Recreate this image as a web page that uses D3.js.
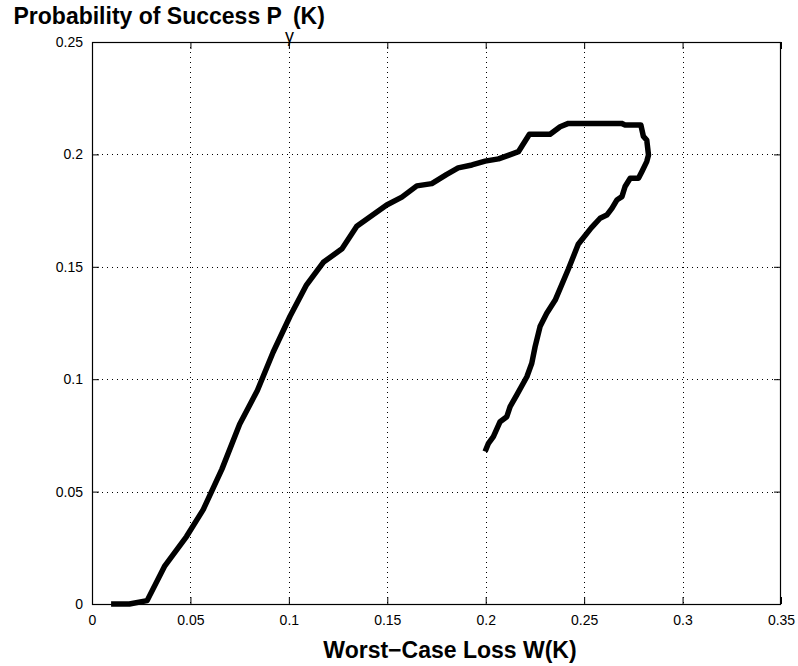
<!DOCTYPE html>
<html>
<head>
<meta charset="utf-8">
<script src="https://cdn.jsdelivr.net/npm/d3@7"></script>
<style>
  html, body { margin: 0; padding: 0; background: #fff; }
  svg { display: block; }
  text { font-family: "Liberation Sans", Arial, Helvetica, sans-serif; }
</style>
</head>
<body>
<svg id="chart" width="798" height="666"></svg>
<script>
// Worst-case loss W(K) against probability of success P_gamma(K)
const lossW = [
  0.0097, 0.019, 0.028, 0.037, 0.048, 0.0565, 0.066, 0.075, 0.084, 0.092,
  0.1006, 0.109, 0.1175, 0.127, 0.1345, 0.1497, 0.1574, 0.165, 0.1726, 0.180,
  0.186, 0.193, 0.1997, 0.2065, 0.2166, 0.2222, 0.2327, 0.2378, 0.242, 0.269,
  0.2708, 0.2788, 0.2801, 0.2818, 0.2827, 0.2818, 0.2793, 0.2776, 0.2734, 0.2708,
  0.2692, 0.2666, 0.2641, 0.2615, 0.2581, 0.2536, 0.247, 0.242, 0.2353, 0.231,
  0.2276, 0.2251, 0.2234, 0.2209, 0.2158, 0.2124, 0.2107, 0.2073, 0.2039, 0.2014,
  0.1997
];
const successP = [
  0.0, 0.0, 0.0015, 0.017, 0.030, 0.042, 0.060, 0.080, 0.095, 0.112,
  0.128, 0.142, 0.152, 0.158, 0.168, 0.1775, 0.181, 0.186, 0.187, 0.191,
  0.194, 0.1953, 0.197, 0.198, 0.2012, 0.209, 0.209, 0.2123, 0.2138, 0.2138,
  0.2131, 0.2131, 0.208, 0.2064, 0.1997, 0.1968, 0.1923, 0.1894, 0.1894, 0.1857,
  0.1812, 0.1797, 0.176, 0.173, 0.1716, 0.1673, 0.160, 0.149, 0.1352, 0.1293,
  0.1234, 0.1145, 0.1071, 0.1011, 0.093, 0.0878, 0.0833, 0.0811, 0.0745, 0.0715,
  0.0678
];
const xTicks = [0, 0.05, 0.1, 0.15, 0.2, 0.25, 0.3, 0.35];
const yTicks = [0, 0.05, 0.1, 0.15, 0.2, 0.25];
const xTickLabels = ["0", "0.05", "0.1", "0.15", "0.2", "0.25", "0.3", "0.35"];
const yTickLabels = ["0", "0.05", "0.1", "0.15", "0.2", "0.25"];

const svg = d3.select("#chart");
const plotL = 92, plotR = 781, plotT = 42, plotB = 604;

const x = d3.scaleLinear().domain([0, 0.35]).range([plotL, plotR]);
const y = d3.scaleLinear().domain([0, 0.25]).range([plotB, plotT]);

// dotted grid
const grid = svg.append("g").attr("stroke", "#000").attr("stroke-width", 1)
  .attr("stroke-dasharray", "1,4").attr("shape-rendering", "crispEdges");
grid.selectAll("line.gx").data(xTicks.slice(1, -1)).join("line")
  .attr("x1", d => Math.round(x(d)) + 0.5).attr("x2", d => Math.round(x(d)) + 0.5)
  .attr("y1", plotT).attr("y2", plotB);
grid.selectAll("line.gy").data(yTicks.slice(1, -1)).join("line")
  .attr("x1", plotL).attr("x2", plotR)
  .attr("y1", d => Math.round(y(d)) + 0.5).attr("y2", d => Math.round(y(d)) + 0.5);

// axes with inward ticks on all four sides
const tickLen = 7;
const xAxisB = d3.axisBottom(x).tickValues(xTicks).tickSizeInner(-tickLen).tickSizeOuter(0)
  .tickPadding(11).tickFormat((d, i) => xTickLabels[i]);
const xAxisT = d3.axisTop(x).tickValues(xTicks).tickSizeInner(-tickLen).tickSizeOuter(0).tickFormat("");
const yAxisL = d3.axisLeft(y).tickValues(yTicks).tickSizeInner(-tickLen).tickSizeOuter(0)
  .tickPadding(9).tickFormat((d, i) => yTickLabels[i]);
const yAxisR = d3.axisRight(y).tickValues(yTicks).tickSizeInner(-tickLen).tickSizeOuter(0).tickFormat("");

function styleAxis(g) {
  g.select(".domain").remove();
  g.selectAll("line").attr("stroke", "#000");
  g.selectAll("text").attr("font-size", 14).attr("fill", "#000")
    .style("font-family", "'Liberation Sans', Arial, sans-serif");
}
svg.append("g").attr("transform", `translate(0,${plotB})`).call(xAxisB).call(styleAxis);
svg.append("g").attr("transform", `translate(0,${plotT})`).call(xAxisT).call(styleAxis);
svg.append("g").attr("transform", `translate(${plotL},0)`).call(yAxisL).call(styleAxis);
svg.append("g").attr("transform", `translate(${plotR},0)`).call(yAxisR).call(styleAxis);

// box
svg.append("rect").attr("x", plotL + 0.5).attr("y", plotT + 0.5)
  .attr("width", plotR - plotL - 1).attr("height", plotB - plotT)
  .attr("fill", "none").attr("stroke", "#000").attr("stroke-width", 1.2);

// the curve
const pts = lossW.map((w, i) => [w, successP[i]]);
svg.append("path").datum(pts)
  .attr("fill", "none").attr("stroke", "#000").attr("stroke-width", 5.5)
  .attr("stroke-linejoin", "round")
  .attr("d", d3.line().x(d => x(d[0])).y(d => y(d[1])));

// labels
const title = svg.append("text").attr("x", 13.5).attr("y", 24)
  .attr("font-size", 23).attr("font-weight", "bold").attr("fill", "#000");
title.append("tspan").text("Probability of Success P");
title.append("tspan").attr("dx", 3).attr("dy", 18).attr("font-size", 18)
  .attr("font-weight", "normal").text("\u03B3");
title.append("tspan").attr("dx", -1).attr("dy", -18).text("(K)");

svg.append("text").attr("x", 450).attr("y", 658)
  .attr("text-anchor", "middle").attr("font-size", 23).attr("font-weight", "bold")
  .attr("fill", "#000").text("Worst\u2212Case Loss W(K)");
</script>
</body>
</html>
